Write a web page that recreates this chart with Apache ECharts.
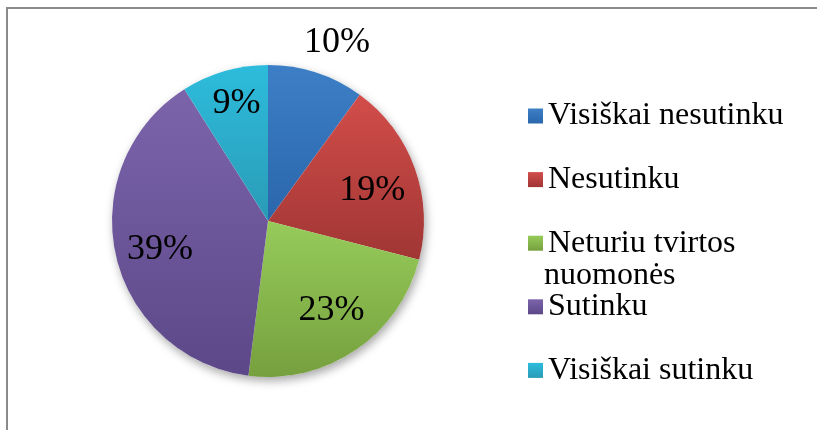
<!DOCTYPE html>
<html>
<head>
<meta charset="utf-8">
<script src="https://cdn.jsdelivr.net/npm/echarts@6/dist/echarts.min.js"></script>
<style>
  html, body { margin: 0; padding: 0; background: #fff; }
  #chart { width: 817px; height: 430px; }
</style>
</head>
<body>
<div id="chart"></div>
<script>
// answers, clockwise from 12 o'clock
const categories = ['Visiškai nesutinku', 'Nesutinku', 'Neturiu tvirtos nuomonės', 'Sutinku', 'Visiškai sutinku']
const shares = [10, 19, 23, 39, 9]

// gradient top -> bottom for each slice
const sliceColors = [
  ['#3d7fc6', '#2a66ab'],
  ['#d24d4a', '#a03634'],
  ['#96cb5a', '#76a03e'],
  ['#7c64ab', '#5c4888'],
  ['#2dbcdc', '#2a9bb6']
]
// nudge of each percent label from the default inside spot
const labelOffsets = [[44, -101], [28, -3], [18, 23], [-29, 11], [-9, -40]]

const FONT = '"Liberation Serif", "Times New Roman", serif'
const center = [268, 221]
const radius = 156

const chart = echarts.init(document.getElementById('chart'))

const pieData = categories.map((name, i) => ({
  name: name,
  value: shares[i],
  itemStyle: {
    color: new echarts.graphic.LinearGradient(0, 0, 0, 1, [
      { offset: 0, color: sliceColors[i][0] },
      { offset: 1, color: sliceColors[i][1] }
    ])
  },
  label: { offset: labelOffsets[i] }
}))

chart.setOption({
  animation: false,
  graphic: [
    { // chart frame
      type: 'rect',
      shape: { x: 7, y: 8, width: 900, height: 500 },
      style: { fill: 'none', stroke: '#8a8a8a', lineWidth: 2 },
      silent: true
    },
    { // wrapped second line of the third legend entry
      type: 'text',
      left: 544,
      top: 260,
      style: { text: 'nuomonės', font: '32px ' + FONT, fill: '#000' },
      silent: true
    }
  ],
  legend: {
    orient: 'vertical',
    left: 523,
    top: 95,
    data: categories,
    icon: 'rect',
    itemWidth: 15,
    itemHeight: 15,
    itemGap: 31.6,
    selectedMode: false,
    formatter: name => name === categories[2] ? 'Neturiu tvirtos' : name,
    textStyle: {
      fontFamily: FONT,
      fontSize: 32,
      lineHeight: 32,
      color: '#000'
    }
  },
  series: [
    { // soft shadow under the pie
      type: 'pie',
      silent: true,
      center: center,
      radius: radius,
      z: 1,
      label: { show: false },
      labelLine: { show: false },
      data: [{ value: 1, name: '' }],
      itemStyle: {
        color: '#fff',
        shadowBlur: 10,
        shadowOffsetX: 2,
        shadowOffsetY: 4,
        shadowColor: 'rgba(0,0,0,0.35)'
      }
    },
    {
      type: 'pie',
      center: center,
      radius: radius,
      z: 2,
      startAngle: 90,
      clockwise: true,
      avoidLabelOverlap: false,
      emphasis: { disabled: true },
      label: {
        show: true,
        position: 'inside',
        formatter: '{c}%',
        fontFamily: FONT,
        fontSize: 36,
        color: '#000'
      },
      labelLine: { show: false },
      data: pieData
    }
  ]
})
</script>
</body>
</html>
